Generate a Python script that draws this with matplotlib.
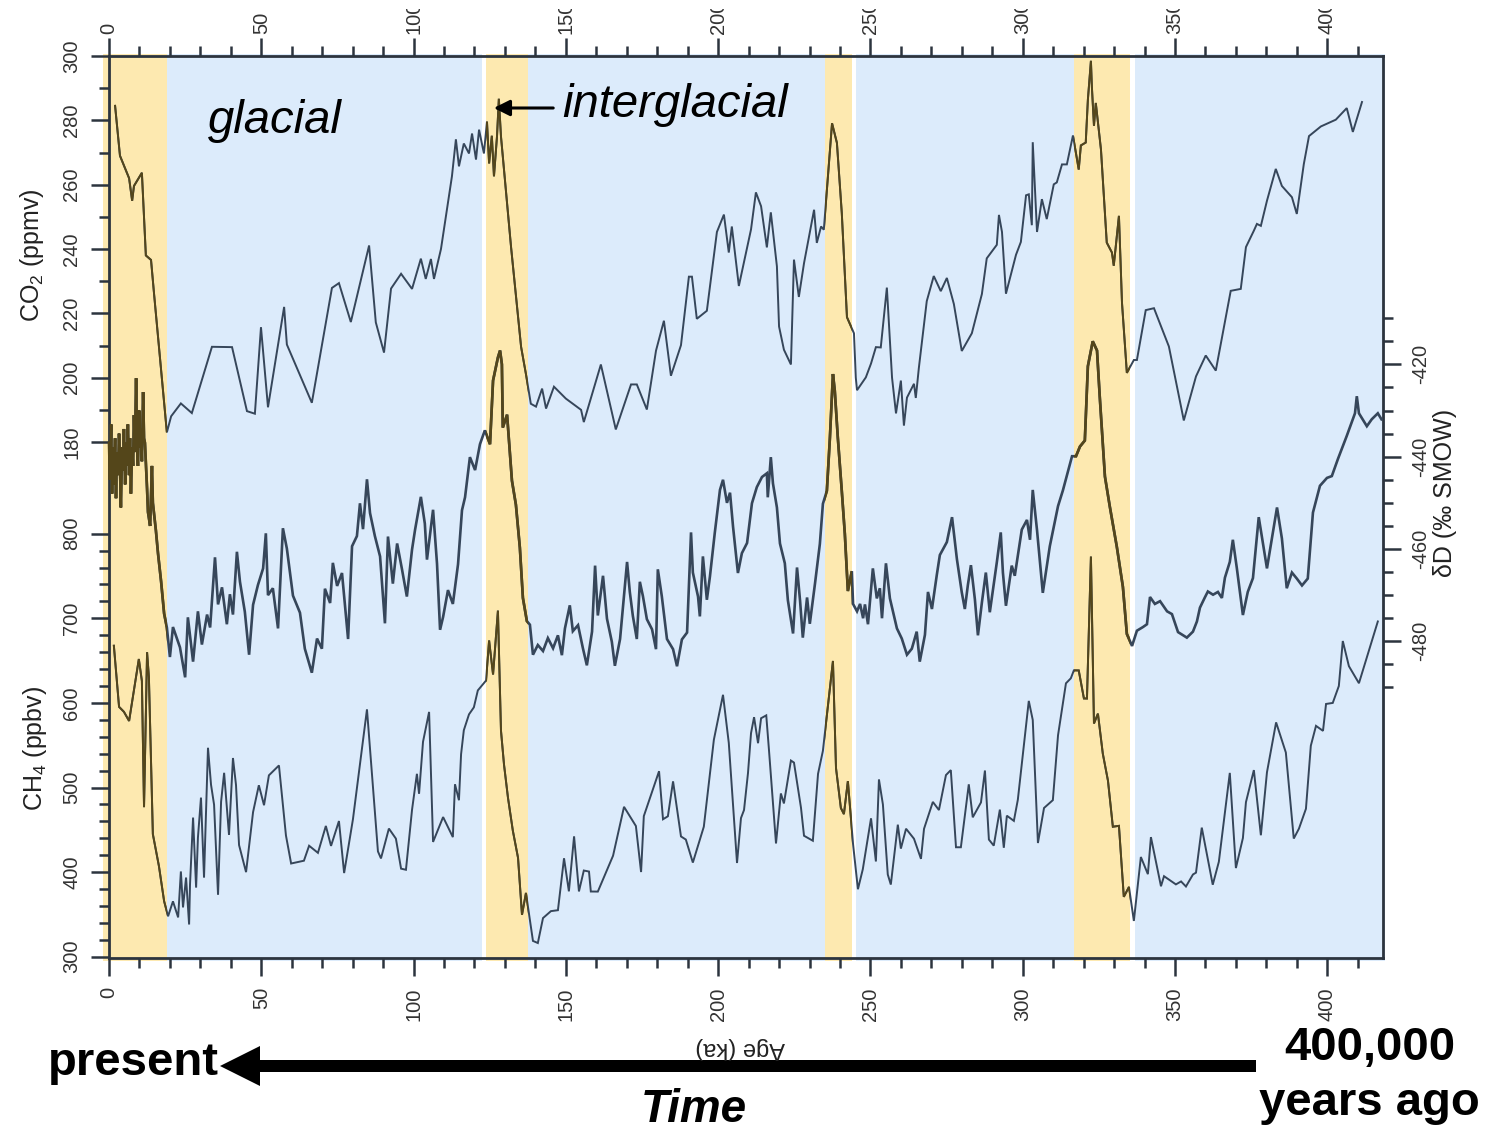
import matplotlib.pyplot as plt
import numpy as np
from matplotlib.patches import Rectangle, FancyArrow, FancyArrowPatch
from matplotlib.transforms import Bbox, TransformedBbox, offset_copy

plt.rcParams['font.family'] = ['Liberation Sans', 'DejaVu Sans']
plt.rcParams['mathtext.fontset'] = 'custom'
plt.rcParams['mathtext.rm'] = 'Liberation Sans'
plt.rcParams['mathtext.it'] = 'Liberation Sans:italic'
plt.rcParams['axes.unicode_minus'] = False

# ---- data (age in ka) ----
co2_age = [2.0, 3.6, 6.6, 7.6, 8.2, 10.8, 12.1, 13.8, 14.8, 19.0, 20.4, 23.6, 27.2, 33.8, 40.4,
           45.3, 47.9, 49.9, 52.2, 57.5, 58.4, 66.6, 73.2, 75.5, 79.4, 85.4, 87.6, 90.3, 92.6,
           95.9, 99.5, 102.4, 104.0, 105.7, 106.7, 109.0, 111.6, 112.6, 113.9, 114.9, 116.5,
           118.2, 119.2, 120.5, 121.5, 123.1, 124.1, 124.8, 125.7, 126.4, 127.4, 128.0, 128.7,
           129.7, 132.0, 135.3, 136.9, 138.5, 140.2, 142.2, 143.5, 146.1, 150.0, 155.0, 155.9,
           161.5, 166.4, 171.4, 173.3, 176.6, 179.6, 182.2, 184.5, 187.8, 190.4, 191.4, 193.0,
           196.3, 199.6, 201.9, 203.5, 204.5, 206.8, 210.8, 212.4, 214.1, 216.0, 217.3, 219.3,
           220.0, 221.6, 223.9, 224.9, 226.5, 228.2, 231.5, 232.4, 233.8, 234.7, 237.4, 239.0,
           240.6, 242.3, 244.6, 245.2, 245.6, 248.5, 250.2, 251.8, 253.4, 255.4, 257.1, 258.4,
           260.0, 261.0, 262.0, 264.3, 264.9, 265.9, 268.5, 270.8, 273.1, 275.1, 277.4, 280.0,
           283.3, 286.6, 288.2, 291.5, 292.2, 293.2, 294.5, 297.8, 299.4, 301.1, 302.0, 303.0,
           303.3, 304.7, 306.3, 307.9, 310.2, 311.2, 312.9, 314.5, 316.5, 318.4, 319.1, 320.7,
           321.4, 322.4, 322.7, 323.4, 324.0, 325.7, 327.6, 329.3, 329.9, 331.6, 332.6, 334.2,
           336.5, 337.5, 340.4, 343.1, 348.0, 352.9, 356.9, 360.1, 363.4, 368.3, 371.6, 373.3,
           375.9, 376.9, 378.2, 380.2, 383.1, 385.1, 388.4, 390.0, 392.3, 394.0, 397.9, 402.8,
           406.4, 408.4, 411.4]
co2_ppmv = [284.5, 269, 262, 255, 259.6, 263.7, 238, 236.6, 226, 183, 188, 192, 189, 209.6, 209.5,
            189.6, 188.8, 215.7, 190.8, 222, 210.3, 192.2, 227.9, 229.4, 217.3, 241.1, 217.2, 207.8,
            227.7, 232.3, 227.6, 237, 230.7, 236.9, 230.7, 240.0, 256.4, 262.6, 274.1, 265.7, 272.8,
            269.7, 275.9, 267.8, 277.1, 269.7, 279.6, 266.6, 275.2, 262.6, 275.1, 286.7, 275,
            264.6, 240.7, 209.6, 201.1, 191.9, 191, 196.6, 190.4, 197.2, 193.5, 190, 186.2,
            204.1, 183.9, 197.9, 197.9, 190.1, 208.4, 217.7, 200.6, 210.1, 231.4, 231.4, 218.3,
            220.8, 245.3, 250.7, 238.9, 247, 228.5, 246.1, 257.6, 253.3, 240.5, 251.4, 234.6,
            215.9, 208.7, 204.1, 236.7, 225.1, 235.6, 252.2, 241.9, 247, 246, 279.1, 273,
            251.2, 218.8, 213.8, 200, 196.1, 200.1, 204.4, 209.5, 209.4, 228, 200, 188.9,
            199.1, 185.1, 193.8, 198.1, 193.7, 203, 223.8, 231.6, 226.9, 231, 222.9, 208.3,
            213.8, 226, 237.1, 241.3, 250.6, 245.3, 226.1, 238.2, 242.2, 256.7, 257, 247.4,
            273.2, 245.3, 255.5, 249.3, 260.1, 260.7, 266.3, 266.3, 275.3, 264.7, 272.2, 273.1,
            286.4, 298.5, 290.7, 278.3, 285.4, 270.9, 242, 238.9, 234.8, 250.3, 223.3, 201.5,
            205.5, 205.5, 221, 221.6, 209.7, 186.7, 200.4, 206.9, 202.2, 227, 227.6, 240.6,
            245.7, 247.8, 247.2, 255, 264.9, 259.6, 256.1, 250.9, 266.4, 275.1, 278.1, 280.2,
            283.8, 276.4, 285.7]

dd_age = [0.0, 0.3, 0.7, 1.0, 1.3, 1.6, 2.0, 2.3, 2.6, 3.0, 3.3, 3.6, 3.9, 4.3, 4.6, 4.9, 5.3, 5.6,
          5.9, 6.2, 6.6, 6.9, 7.2, 7.6, 7.9, 8.2, 8.5, 8.9, 9.2, 9.5, 9.9, 10.2, 10.5, 10.8, 11.2,
          11.5, 11.8, 12.5, 12.8, 13.5, 14.1, 14.4, 15.4, 16.1, 17.1, 18.1, 19.0, 20.0, 21.0,
          23.3, 25.0, 25.9, 27.6, 29.2, 30.5, 32.2, 33.2, 34.8, 35.8, 37.1, 38.7, 39.7, 40.7,
          42.0, 43.0, 44.6, 46.0, 47.3, 48.9, 50.6, 51.5, 52.2, 53.8, 55.5, 57.1, 58.4, 60.4,
          62.7, 64.3, 66.6, 68.3, 69.9, 70.9, 72.6, 73.5, 74.9, 76.5, 78.5, 79.8, 81.4, 82.4,
          83.4, 84.7, 85.7, 87.3, 89.0, 90.6, 91.6, 93.2, 94.6, 96.2, 97.8, 99.5, 100.5, 102.4,
          103.7, 104.4, 106.4, 107.7, 108.7, 109.7, 111.3, 112.9, 114.6, 115.9, 116.9, 118.5,
          120.2, 121.8, 123.4, 125.1, 126.1, 127.7, 128.4, 129.0, 129.3, 130.7, 132.3, 133.6,
          134.9, 135.9, 137.2, 138.2, 139.2, 140.8, 142.5, 144.1, 145.8, 147.4, 148.7, 149.7,
          151.3, 152.3, 154.0, 155.6, 156.9, 158.6, 159.6, 160.5, 162.2, 163.5, 165.1, 166.1,
          167.8, 170.1, 171.0, 172.0, 173.3, 174.3, 175.3, 176.6, 178.3, 179.6, 180.2, 181.5,
          183.2, 185.2, 186.5, 188.1, 189.8, 191.1, 191.7, 193.4, 194.0, 195.0, 196.3, 197.3,
          198.9, 200.6, 201.6, 202.9, 203.9, 204.9, 206.5, 207.8, 209.5, 211.1, 212.7, 214.4,
          216.0, 216.3, 217.3, 218.0, 219.3, 220.3, 221.9, 222.9, 224.6, 225.9, 226.9, 227.8,
          229.2, 230.1, 231.8, 233.4, 234.4, 235.7, 236.7, 237.7, 238.3, 239.3, 240.6, 241.6,
          242.6, 243.9, 244.3, 245.6, 246.6, 247.6, 248.2, 249.2, 250.8, 252.1, 253.1, 253.8,
          255.1, 256.4, 258.7, 260.3, 262.0, 263.6, 265.2, 266.2, 267.9, 268.9, 270.2, 271.8,
          272.8, 275.1, 276.8, 278.4, 280.0, 281.0, 282.0, 283.0, 284.3, 285.3, 286.6, 287.9,
          289.2, 291.5, 292.8, 293.5, 294.5, 296.4, 297.4, 299.7, 301.4, 302.4, 303.3, 304.7,
          306.6, 308.9, 311.6, 313.2, 316.2, 317.5, 318.8, 320.4, 321.4, 323.0, 324.4, 325.3,
          327.0, 328.6, 330.9, 332.9, 334.2, 335.9, 337.5, 339.5, 340.8, 341.8, 343.4, 345.1,
          347.4, 349.0, 351.0, 353.9, 355.9, 357.2, 358.2, 359.8, 360.8, 362.5, 364.1, 365.4,
          366.4, 368.0, 369.0, 370.3, 372.3, 373.9, 375.6, 377.5, 380.2, 383.5, 385.1, 386.7,
          388.4, 390.0, 391.7, 393.6, 395.3, 397.6, 399.9, 401.5, 403.5, 406.4, 409.1, 409.7,
          410.4, 413.0, 414.6, 416.6, 417.8]
dd_permil = [-437, -445, -433, -448, -438, -446, -436, -449, -439, -444, -435, -442, -451, -438,
             -443, -434, -446, -437, -442, -433, -444, -436, -448, -438, -442, -431, -439, -423,
             -437, -442, -430, -438, -434, -441, -426, -436, -437, -447, -452, -455, -442, -450,
             -456, -461, -467, -474, -477, -483.4, -476.9, -481.3, -487.8, -474.8, -484.4, -473.5,
             -480.7, -474.2, -477.0, -461.8, -472.0, -468.3, -476.3, -469.8, -474.2, -460.6,
             -467.1, -473.6, -482.9, -472.1, -467.8, -464.2, -456.6, -470.0, -468.5, -477.2,
             -455.5, -459.9, -470.1, -473.8, -481.6, -486.8, -479.4, -481.6, -468.6, -471.7,
             -463.0, -468.0, -465.2, -479.5, -459.4, -457.2, -450.1, -455.7, -444.9, -452.2,
             -457.2, -461.6, -476.1, -457.3, -467.5, -458.8, -464.4, -470.3, -460.1, -455.8,
             -448.7, -454.5, -462.3, -451.5, -463.2, -477.5, -474.7, -468.9, -471.9, -463.3,
             -451.6, -448.8, -440.1, -442.9, -437.3, -434.3, -437.3, -423.5, -418.5, -417.0,
             -420.0, -433.7, -430.9, -445.2, -450.4, -459.7, -470.6, -475.6, -476.4, -482.9,
             -480.8, -482.1, -479.3, -481.5, -478.7, -483.0, -477.2, -472.2, -477.8, -476.5,
             -481.5, -485.2, -477.9, -463.6, -474.4, -465.8, -475.1, -480.1, -485.3, -479.5,
             -462.8, -469.3, -474.5, -479.5, -467.1, -470.2, -475.2, -477.4, -481.7, -464.4,
             -470.2, -479.5, -481.7, -485.4, -479.6, -478.1, -456.4, -465.1, -470.3, -474.6,
             -461.6, -471.0, -466.0, -456.5, -447.2, -445.0, -450.0, -447.8, -455.2, -465.2,
             -460.9, -458.7, -450.1, -446.6, -444.4, -443.6, -448.8, -440.1, -445.8, -451.0,
             -458.8, -463.1, -471.1, -478.3, -464.0, -471.2, -479.2, -470.5, -476.2, -467.5,
             -458.9, -450.2, -447.4, -435.9, -422.1, -425.7, -435.9, -447.4, -456.7, -469.1,
             -464.8, -471.9, -473.5, -471.9, -475.0, -472.0, -476.3, -464.2, -470.7, -468.5,
             -475.0, -463.1, -470.7, -477.2, -479.4, -482.9, -481.6, -477.9, -484.4, -478.6,
             -469.3, -473.0, -465.6, -461.3, -458.5, -453.1, -462.2, -469.4, -473.0, -467.8,
             -463.5, -470.9, -478.7, -471.6, -465.1, -473.7, -462.9, -456.4, -465.1, -472.3,
             -463.6, -465.8, -455.8, -453.7, -458.0, -447.2, -455.9, -469.5, -459.4, -450.7,
             -447.3, -439.9, -439.9, -437.8, -436.5, -420.4, -415.0, -417.0, -427.0, -444.3,
             -450.8, -459.5, -468.2, -478.4, -481.0, -477.7, -476.9, -476.3, -470.4, -471.9,
             -471.3, -473.5, -474.1, -478.0, -479.2, -477.9, -475.7, -472.7, -470.5, -469.2,
             -469.9, -469.3, -470.6, -466.2, -462.8, -458.0, -464.1, -474.3, -469.3, -466.3,
             -453.1, -464.2, -451.0, -457.7, -468.5, -465.1, -466.4, -467.9, -466.4, -452.1,
             -446.3, -444.6, -444.2, -440.5, -435.5, -430.6, -426.9, -430.6, -433.4, -431.9,
             -430.6, -431.9]

ch4_age = [1.6, 3.3, 4.9, 6.6, 9.8, 10.8, 11.5, 12.5, 13.1, 14.4, 16.4, 18.1, 19.4, 21.0, 22.7,
           23.6, 24.3, 25.3, 26.3, 26.6, 27.6, 28.6, 29.2, 30.2, 31.2, 32.5, 33.5, 34.5, 35.8,
           36.8, 37.8, 39.4, 40.7, 41.7, 42.7, 45.0, 47.3, 49.2, 50.9, 52.5, 55.8, 58.1, 59.8,
           64.0, 65.7, 68.6, 71.2, 72.9, 75.5, 77.2, 80.1, 84.7, 88.3, 89.3, 91.9, 94.2, 95.9,
           97.5, 99.5, 101.1, 101.8, 103.1, 105.1, 106.4, 109.7, 112.9, 113.6, 114.9, 115.6,
           116.5, 118.2, 119.8, 121.1, 123.8, 124.8, 126.1, 127.7, 128.7, 129.7, 131.0, 132.6,
           134.3, 135.6, 136.9, 139.2, 140.8, 142.5, 145.1, 147.4, 149.4, 151.0, 152.7, 154.3,
           155.9, 157.6, 158.2, 160.5, 165.5, 169.1, 173.0, 174.7, 175.6, 180.6, 181.9, 183.5,
           185.2, 187.8, 189.4, 191.7, 195.3, 198.6, 201.6, 203.5, 206.2, 207.5, 208.5, 209.8,
           210.8, 211.8, 213.1, 214.1, 215.8, 216.7, 219.0, 220.6, 221.6, 223.9, 224.9, 227.2,
           228.2, 231.1, 232.8, 234.4, 237.7, 238.7, 240.3, 241.3, 242.6, 244.3, 245.9, 247.5,
           250.2, 251.8, 252.8, 254.1, 255.7, 256.7, 259.0, 260.0, 261.7, 264.3, 266.6, 267.6,
           270.5, 272.5, 274.8, 276.4, 278.1, 279.7, 282.3, 283.6, 286.3, 287.6, 288.9, 290.5,
           292.5, 293.8, 294.8, 297.1, 298.4, 300.1, 302.0, 303.3, 305.0, 307.0, 309.9, 311.6,
           314.2, 315.8, 316.8, 318.4, 320.1, 321.1, 322.4, 323.4, 324.7, 326.3, 328.0, 329.6,
           331.6, 333.2, 334.9, 336.5, 338.8, 341.1, 342.1, 345.4, 346.4, 350.3, 352.0, 353.6,
           355.9, 356.9, 358.8, 362.4, 364.4, 368.0, 370.0, 372.3, 373.3, 375.9, 378.2, 380.2,
           383.2, 386.4, 389.0, 390.7, 393.0, 394.6, 396.3, 398.6, 399.6, 401.8, 403.8, 405.1,
           407.1, 410.4, 416.6]
ch4_ppbv = [667.6, 595.4, 589.5, 578.7, 651.9, 625.9, 476.8, 660, 630.5, 444.9, 407, 365.6, 347.8,
            365.5, 346.5, 400.8, 358.3, 393.6, 338.1, 385.3, 464.5, 381.7, 440.8, 488.1, 393.5,
            547, 503.3, 479.7, 373.2, 483.1, 517.4, 444, 534.9, 503, 432, 400, 470.9, 502.7,
            479.1, 514.4, 526.1, 443.3, 410.2, 413.5, 431.2, 422.8, 454.6, 431, 460.4, 398.9,
            462.6, 592.4, 424.5, 416.2, 451.5, 439.6, 404.1, 402.8, 473.8, 516.2, 492.6, 554,
            589.4, 435.7, 465.1, 441.4, 503.9, 485, 539.4, 567.7, 586.5, 594.8, 614.8, 626.5,
            673.8, 633.6, 709.1, 567.3, 527, 487.9, 448.9, 416.9, 349.5, 375.4, 318.7, 316.2,
            345.7, 353.9, 355, 416.4, 377.3, 442.3, 377.2, 401.9, 400.7, 377.1, 377, 419.4,
            477.2, 454.5, 400.1, 466.2, 519.3, 462.5, 466, 507.3, 442.2, 438.5, 411.3, 453.7,
            556.5, 609.6, 552.7, 410.8, 463.9, 473.4, 517, 564.3, 583.2, 552.4, 581.9, 585.3,
            544, 433.9, 493, 481.2, 531.9, 529.5, 476.2, 443, 437.1, 516.2, 543.4, 649.6, 523,
            475.8, 468.6, 507.6, 433.1, 379.8, 403.4, 463.6, 412.6, 509.6, 480, 397.2, 385.3,
            456.1, 427.8, 451.3, 439.5, 415.7, 451.2, 483, 473.4, 514.7, 520.6, 429.4, 429.4,
            503.8, 464.8, 482.4, 520.1, 438.5, 431.3, 473.9, 428.8, 466.7, 460.6, 485.5, 541,
            602.4, 579.9, 434.4, 475.8, 485.1, 561.8, 623.2, 629.1, 638.5, 638.4, 605.3, 605.2,
            773, 575.7, 587.3, 540.1, 508, 453.7, 454.7, 370.8, 382.5, 342.3, 417.9, 397.6,
            441.4, 383.3, 395.2, 385.5, 389, 383, 397.2, 399.4, 452.6, 385.1, 412.2, 517.3,
            404.8, 440.3, 482.7, 520.6, 443.6, 518, 577, 541.4, 439.7, 451.4, 474.9, 549.4,
            572.9, 567, 598.8, 600, 620, 673.2, 643.5, 623.3, 696.3]

# interglacial (yellow) periods and white separators, in ka
warm_periods = [(-2.0, 19.0), (123.8, 137.6), (235.1, 243.9), (316.8, 335.2)]
gaps = [(122.5, 123.8), (243.9, 245.2), (335.2, 336.8)]
age_ticks = list(range(0, 401, 50))

W, H = 1490, 1132
BLUE = '#dcebfb'
YELLOW = '#fde9b0'
SLATE = '#36465a'
OLIVE = '#54461a'
INK = '#2c343e'
XMAX = 418.3
TICK_FS = 14.5

fig = plt.figure(figsize=(W / 100, H / 100), dpi=100)
rect = [109 / W, 1 - 958 / H, (1383 - 109) / W, (958 - 56) / H]

ax = fig.add_axes(rect)
ax.set_xlim(0, XMAX)
ax.set_ylim(0, 1)
ax.set_yticks([])

ax.axvspan(19.0, 418.9, ymin=-0.003, ymax=1.002, color=BLUE, lw=0, clip_on=False, zorder=0)
for a, b in gaps:
    ax.axvspan(a, b, ymin=-0.003, ymax=1.002, color='white', lw=0, clip_on=False, zorder=0)
for a, b in warm_periods:
    ax.axvspan(a, b, ymin=-0.003, ymax=1.002, color=YELLOW, lw=0, clip_on=False, zorder=0)

for s in ax.spines.values():
    s.set_color(INK)
    s.set_linewidth(2)
    s.set_zorder(1)

ax.set_xticks(age_ticks)
ax.set_xticks(np.arange(0, 411, 10), minor=True)
ax.tick_params(axis='x', which='both', direction='out', top=True, bottom=True,
               labelbottom=True, labeltop=False, labelrotation=90, labelsize=TICK_FS,
               labelcolor='#333333', color=INK, width=1.8, pad=8)
ax.tick_params(axis='x', which='major', length=13)
ax.tick_params(axis='x', which='minor', length=7)

# top age labels, cut off near the upper edge of the figure
clip = TransformedBbox(Bbox([[0, 0], [1, 1 - 9 / H]]), fig.transFigure)
top_tr = offset_copy(ax.get_xaxis_transform(), fig=fig, y=22, units='dots')
for t in age_ticks:
    lbl = ax.text(t, 1, str(t), transform=top_tr, rotation=90, ha='center', va='bottom',
                  fontsize=TICK_FS, color='#333333', clip_on=True)
    lbl.set_clip_box(clip)


def overlay(ylim):
    a = fig.add_axes(rect)
    a.set_xlim(0, XMAX)
    a.set_ylim(*ylim)
    a.patch.set_visible(False)
    a.set_xticks([])
    for s in a.spines.values():
        s.set_visible(False)
    return a


def draw_series(a, x, y, lw):
    a.plot(x, y, color=SLATE, lw=lw, solid_joinstyle='miter')
    for x0, x1 in warm_periods:
        seg, = a.plot(x, y, color=OLIVE, lw=lw, solid_joinstyle='miter')
        seg.set_clip_path(Rectangle((x0, 0), x1 - x0, 1, transform=a.get_xaxis_transform()))


ax_co2 = overlay((19.6, 300))
draw_series(ax_co2, co2_age, co2_ppmv, 1.4)
ax_co2.set_yticks(np.arange(180, 301, 20))
ax_co2.set_yticks(np.arange(190, 300, 20), minor=True)

ax_ch4 = overlay((298.5, 1364.7))
draw_series(ax_ch4, ch4_age, ch4_ppbv, 1.4)
ax_ch4.set_yticks(np.arange(300, 801, 100))
ax_ch4.set_yticks([v for v in range(320, 800, 20) if v % 100], minor=True)

ax_dd = overlay((-548.6, -353.2))
draw_series(ax_dd, dd_age, dd_permil, 1.9)
ax_dd.yaxis.tick_right()
ax_dd.set_yticks(np.arange(-480, -419, 20))
ax_dd.set_yticks([v for v in range(-490, -409, 5) if v % 20], minor=True)

for a in (ax_co2, ax_ch4, ax_dd):
    a.tick_params(axis='y', which='both', direction='out', labelrotation=90, labelsize=TICK_FS,
                  labelcolor='#333333', color=INK, width=1.8, pad=7)
    a.tick_params(axis='y', which='major', length=13)
    a.tick_params(axis='y', which='minor', length=7)
    for lbl in a.get_yticklabels():
        lbl.set_va('center')

# axis titles
fig.text(32 / W, 1 - 255 / H, 'CO$_2$ (ppmv)', rotation=90, ha='center', va='center',
         fontsize=18, color='#222222')
fig.text(35 / W, 1 - 748 / H, 'CH$_4$ (ppbv)', rotation=90, ha='center', va='center',
         fontsize=18, color='#222222')
fig.text(1445 / W, 1 - 493 / H, 'δD (‰ SMOW)', rotation=90, ha='center', va='center',
         fontsize=18, color='#222222')
fig.text(740 / W, 1 - 1048 / H, 'Age (ka)', rotation=180, ha='center', va='center',
         fontsize=17, color='#222222')

# annotations
fig.text(208 / W, 1 - 133 / H, 'glacial', style='italic', fontsize=34, ha='left', va='baseline')
fig.text(562 / W, 1 - 117 / H, 'interglacial', style='italic', fontsize=34, ha='left',
         va='baseline')
fig.add_artist(FancyArrowPatch((556 / W, 1 - 108 / H), (491 / W, 1 - 108 / H),
                               transform=fig.transFigure, arrowstyle='-|>',
                               mutation_scale=24, lw=2.2, color='black'))

fig.add_artist(FancyArrow(1256 / W, 1 - 1066 / H, -(1256 - 220) / W, 0, width=12 / H,
                          head_width=40 / H, head_length=40 / W, length_includes_head=True,
                          transform=fig.transFigure, color='black', lw=0))
fig.text(48 / W, 1 - 1075 / H, 'present', weight='bold', fontsize=34, ha='left', va='baseline')
fig.text(1370 / W, 1 - 1060 / H, '400,000', weight='bold', fontsize=34, ha='center',
         va='baseline')
fig.text(1369 / W, 1 - 1115 / H, 'years ago', weight='bold', fontsize=34, ha='center',
         va='baseline')
fig.text(694 / W, 1 - 1122 / H, 'Time', weight='bold', style='italic', fontsize=33,
         ha='center', va='baseline')

fig.savefig('out.png', dpi=100)
